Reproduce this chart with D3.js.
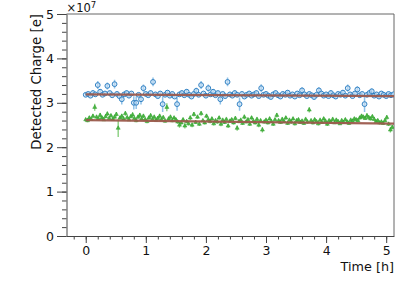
<!DOCTYPE html>
<html>
<head>
<meta charset="utf-8">
<script src="https://cdn.jsdelivr.net/npm/d3@7"></script>
<style>
  body { margin: 0; background: #fff; }
  svg { display: block; font-family: "DejaVu Sans", sans-serif; }
</style>
</head>
<body>
<svg width="415" height="281"></svg>
<script>
// Values in units of 1e7 e. Blue sampled every 0.04 h, green every 0.03 h.
const blueStep = 0.04;
const blueCharge = [
  3.18, 3.20, 3.16, 3.22, 3.19, 3.40, 3.25, 3.18, 3.21, 3.38,
  3.22, 3.17, 3.42, 3.20, 3.15, 3.08, 3.19, 3.22, 3.16, 3.21,
  3.00, 3.00, 3.18, 3.08, 3.33, 3.20, 3.17, 3.22, 3.47, 3.19,
  3.15, 3.21, 2.97, 3.18, 3.23, 3.16, 3.20, 3.14, 2.97, 3.19,
  3.22, 3.17, 3.25, 3.18, 3.14, 3.20, 3.27, 3.18, 3.40, 3.21,
  3.16, 3.33, 3.19, 3.25, 3.17, 3.22, 3.08, 3.20, 3.15, 3.47,
  3.19, 3.16, 3.22, 3.18, 2.97, 3.20, 3.14, 3.18, 3.21, 3.16,
  3.19, 3.22, 3.15, 3.33, 3.18, 3.20, 3.16, 3.13, 3.19, 3.22,
  3.17, 3.14, 3.20, 3.18, 3.23, 3.16, 3.19, 3.14, 3.21, 3.17,
  3.28, 3.19, 3.15, 3.20, 3.17, 3.13, 3.18, 3.28, 3.21, 3.16,
  3.19, 3.15, 3.22, 3.17, 3.14, 3.20, 3.18, 3.23, 3.16, 3.33,
  3.19, 3.15, 3.21, 3.30, 3.17, 3.20, 2.97, 3.18, 3.22, 3.26,
  3.16, 3.19, 3.14, 3.21, 3.18, 3.15, 3.20, 3.17, 3.19
];
const blueError = [
  0.04, 0.05, 0.04, 0.06, 0.05, 0.09, 0.06, 0.04, 0.05, 0.08,
  0.05, 0.04, 0.10, 0.05, 0.04, 0.12, 0.05, 0.06, 0.04, 0.05,
  0.15, 0.14, 0.04, 0.12, 0.08, 0.05, 0.04, 0.06, 0.10, 0.05,
  0.04, 0.05, 0.18, 0.05, 0.06, 0.04, 0.05, 0.04, 0.15, 0.05,
  0.06, 0.04, 0.06, 0.05, 0.04, 0.05, 0.07, 0.04, 0.09, 0.05,
  0.04, 0.08, 0.05, 0.06, 0.04, 0.05, 0.12, 0.05, 0.04, 0.10,
  0.05, 0.04, 0.06, 0.05, 0.15, 0.05, 0.04, 0.04, 0.05, 0.04,
  0.05, 0.06, 0.04, 0.09, 0.05, 0.05, 0.04, 0.05, 0.05, 0.06,
  0.04, 0.05, 0.05, 0.04, 0.06, 0.04, 0.05, 0.04, 0.05, 0.04,
  0.07, 0.05, 0.04, 0.05, 0.04, 0.05, 0.04, 0.07, 0.05, 0.04,
  0.05, 0.04, 0.06, 0.04, 0.05, 0.05, 0.04, 0.06, 0.04, 0.08,
  0.05, 0.04, 0.05, 0.07, 0.04, 0.05, 0.18, 0.05, 0.06, 0.06,
  0.04, 0.05, 0.04, 0.05, 0.05, 0.04, 0.05, 0.04, 0.05
];

const greenStep = 0.03;
const greenCharge = [
  2.62, 2.60, 2.66, 2.63, 2.70, 2.90, 2.68, 2.64, 2.72, 2.66,
  2.62, 2.69, 2.75, 2.65, 2.71, 2.63, 2.68, 2.74, 2.43, 2.66,
  2.70, 2.64, 2.76, 2.67, 2.62, 2.69, 2.73, 2.65, 2.60, 2.68,
  2.72, 2.64, 2.70, 2.62, 2.58, 2.66, 2.71, 2.63, 2.68, 2.61,
  2.65, 2.70, 2.62, 2.67, 2.59, 2.90, 2.64, 2.68, 2.60, 2.66,
  2.62, 2.57, 2.50, 2.55, 2.62, 2.48, 2.58, 2.53, 2.66, 2.50,
  2.74, 2.56, 2.68, 2.52, 2.76, 2.60, 2.55, 2.70, 2.62, 2.58,
  2.64, 2.53, 2.60, 2.57, 2.66, 2.52, 2.61, 2.56, 2.63, 2.48,
  2.59, 2.62, 2.55, 2.65, 2.43, 2.58, 2.61, 2.54, 2.68, 2.57,
  2.62, 2.52, 2.66, 2.59, 2.55, 2.63, 2.50, 2.60, 2.39, 2.57,
  2.61, 2.55, 2.64, 2.58, 2.52, 2.62, 2.72, 2.60, 2.56, 2.63,
  2.58, 2.66, 2.54, 2.61, 2.57, 2.64, 2.53, 2.60, 2.62, 2.56,
  2.59, 2.54, 2.63, 2.57, 2.84, 2.60, 2.55, 2.62, 2.58, 2.53,
  2.61, 2.56, 2.64, 2.59, 2.52, 2.60, 2.57, 2.63, 2.55, 2.61,
  2.58, 2.53, 2.60, 2.56, 2.62, 2.57, 2.54, 2.61, 2.59, 2.64,
  2.62, 2.60, 2.66, 2.70, 2.68, 2.65, 2.71, 2.67, 2.64, 2.69,
  2.63, 2.58, 2.60, 2.55, 2.57, 2.54, 2.60, 2.67, 2.52, 2.39,
  2.45
];
const greenError = [
  0.03, 0.04, 0.04, 0.03, 0.05, 0.08, 0.04, 0.03, 0.05, 0.04,
  0.03, 0.04, 0.05, 0.03, 0.04, 0.03, 0.04, 0.05, 0.20, 0.04,
  0.04, 0.03, 0.05, 0.04, 0.03, 0.04, 0.05, 0.03, 0.04, 0.04,
  0.05, 0.03, 0.04, 0.03, 0.04, 0.04, 0.05, 0.03, 0.04, 0.03,
  0.04, 0.05, 0.03, 0.04, 0.04, 0.09, 0.03, 0.04, 0.04, 0.03,
  0.04, 0.04, 0.06, 0.04, 0.03, 0.06, 0.04, 0.04, 0.05, 0.05,
  0.05, 0.04, 0.04, 0.04, 0.05, 0.03, 0.04, 0.05, 0.03, 0.04,
  0.04, 0.04, 0.03, 0.04, 0.04, 0.05, 0.03, 0.04, 0.03, 0.05,
  0.04, 0.03, 0.04, 0.04, 0.06, 0.04, 0.03, 0.04, 0.05, 0.03,
  0.04, 0.04, 0.04, 0.03, 0.04, 0.04, 0.05, 0.03, 0.06, 0.04,
  0.03, 0.04, 0.04, 0.03, 0.04, 0.03, 0.05, 0.03, 0.04, 0.04,
  0.03, 0.04, 0.04, 0.03, 0.04, 0.04, 0.04, 0.03, 0.04, 0.03,
  0.04, 0.04, 0.03, 0.04, 0.06, 0.03, 0.04, 0.04, 0.03, 0.04,
  0.03, 0.04, 0.04, 0.03, 0.04, 0.03, 0.04, 0.04, 0.03, 0.04,
  0.04, 0.03, 0.04, 0.04, 0.03, 0.04, 0.04, 0.03, 0.04, 0.04,
  0.04, 0.03, 0.04, 0.05, 0.04, 0.04, 0.05, 0.04, 0.04, 0.04,
  0.04, 0.03, 0.04, 0.04, 0.03, 0.04, 0.04, 0.05, 0.04, 0.06,
  0.05
];

// Linear fits: [time, charge] at both ends
const blueFit = [[0, 3.19], [5.13, 3.15]];
const greenFit = [[0, 2.61], [5.13, 2.53]];

const yTicks = [0, 1, 2, 3, 4, 5];
const xTicks = [0, 1, 2, 3, 4, 5];

const svg = d3.select("svg");
const plotLeft = 66.5, plotRight = 394, plotTop = 14, plotBottom = 236;

const x = d3.scaleLinear().domain([-0.32, 5.13]).range([plotLeft, plotRight]);
const y = d3.scaleLinear().domain([0, 5]).range([plotBottom, plotTop]);

const axisColor = "#444";

// Frame (top & right)
svg.append("path")
  .attr("d", `M${plotLeft},${plotTop}H${plotRight}V${plotBottom}`)
  .attr("fill", "none").attr("stroke", "#666").attr("stroke-width", 1);

// Y axis with minor ticks
const yMinor = d3.range(0, 5.01, 0.2);
svg.append("g").attr("transform", `translate(${plotLeft},0)`)
  .call(d3.axisLeft(y).tickValues(yMinor).tickSize(4.5).tickFormat(""))
  .call(g => g.select(".domain").remove())
  .selectAll("line").attr("stroke", axisColor);
const yAxis = svg.append("g").attr("transform", `translate(${plotLeft},0)`)
  .call(d3.axisLeft(y).tickValues(yTicks).tickSize(9.5).tickPadding(3).tickSizeOuter(0).tickFormat(d3.format("d")));
yAxis.select(".domain").attr("stroke", axisColor);
yAxis.selectAll("line").attr("stroke", axisColor);
yAxis.selectAll("text").attr("font-size", 12.5).attr("fill", "#111")
  .attr("font-family", "DejaVu Sans");

// X axis with minor ticks
const xMinor = d3.range(-0.2, 5.13, 0.2);
svg.append("g").attr("transform", `translate(0,${plotBottom})`)
  .call(d3.axisBottom(x).tickValues(xMinor).tickSize(3.5).tickFormat(""))
  .call(g => g.select(".domain").remove())
  .selectAll("line").attr("stroke", axisColor);
const xAxis = svg.append("g").attr("transform", `translate(0,${plotBottom})`)
  .call(d3.axisBottom(x).tickValues(xTicks).tickSize(7).tickPadding(3).tickSizeOuter(0).tickFormat(d3.format("d")));
xAxis.select(".domain").attr("stroke", axisColor);
xAxis.selectAll("line").attr("stroke", axisColor);
xAxis.selectAll("text").attr("font-size", 12.5).attr("fill", "#111")
  .attr("font-family", "DejaVu Sans");

// Axis titles
svg.append("text")
  .attr("transform", `translate(41,${plotTop}) rotate(-90)`)
  .attr("text-anchor", "end")
  .attr("font-size", 13.3).attr("fill", "#111")
  .text("Detected Charge [e]");

svg.append("text")
  .attr("x", plotRight).attr("y", 271)
  .attr("text-anchor", "end")
  .attr("font-size", 12.8).attr("fill", "#111")
  .text("Time [h]");

const mult = svg.append("text")
  .attr("x", plotLeft).attr("y", 12)
  .attr("font-size", 11.5).attr("fill", "#111");
mult.append("tspan").text("\u00d710");
mult.append("tspan").attr("dy", -4.5).attr("font-size", 8.5).text("7");

// Plot clip
svg.append("clipPath").attr("id", "plot")
  .append("rect").attr("x", plotLeft).attr("y", plotTop)
  .attr("width", plotRight - plotLeft).attr("height", plotBottom - plotTop);
const plot = svg.append("g").attr("clip-path", "url(#plot)");

const blueData = blueCharge.map((v, i) => ({ t: i * blueStep, v, e: blueError[i] }));
const greenData = greenCharge.map((v, i) => ({ t: i * greenStep, v, e: greenError[i] }));

// Green series: error bars then triangles
plot.append("g").selectAll("line").data(greenData).join("line")
  .attr("x1", d => x(d.t)).attr("x2", d => x(d.t))
  .attr("y1", d => y(d.v - d.e)).attr("y2", d => y(d.v + d.e))
  .attr("stroke", "#7fcb75").attr("stroke-width", 1.3);
plot.append("g").selectAll("path").data(greenData).join("path")
  .attr("transform", d => `translate(${x(d.t)},${y(d.v)})`)
  .attr("d", d3.symbol(d3.symbolTriangle, 7))
  .attr("fill", "#4cb443").attr("stroke", "#2ca02c").attr("stroke-width", 0.5);

// Blue series: error bars then open circles
plot.append("g").selectAll("line").data(blueData).join("line")
  .attr("x1", d => x(d.t)).attr("x2", d => x(d.t))
  .attr("y1", d => y(d.v - d.e)).attr("y2", d => y(d.v + d.e))
  .attr("stroke", "#8fc1e8").attr("stroke-width", 1.5);
plot.append("g").selectAll("circle").data(blueData).join("circle")
  .attr("cx", d => x(d.t)).attr("cy", d => y(d.v)).attr("r", 2.4)
  .attr("fill", "#c9e1f5").attr("fill-opacity", 0.6)
  .attr("stroke", "#3282c4").attr("stroke-width", 1);

// Fit lines
const line = d3.line().x(d => x(d[0])).y(d => y(d[1]));
[blueFit, greenFit].forEach(f => {
  plot.append("path").attr("d", line(f))
    .attr("fill", "none").attr("stroke", "#9c5a4d")
    .attr("stroke-width", 2.4).attr("stroke-opacity", 0.95);
});
</script>
</body>
</html>
